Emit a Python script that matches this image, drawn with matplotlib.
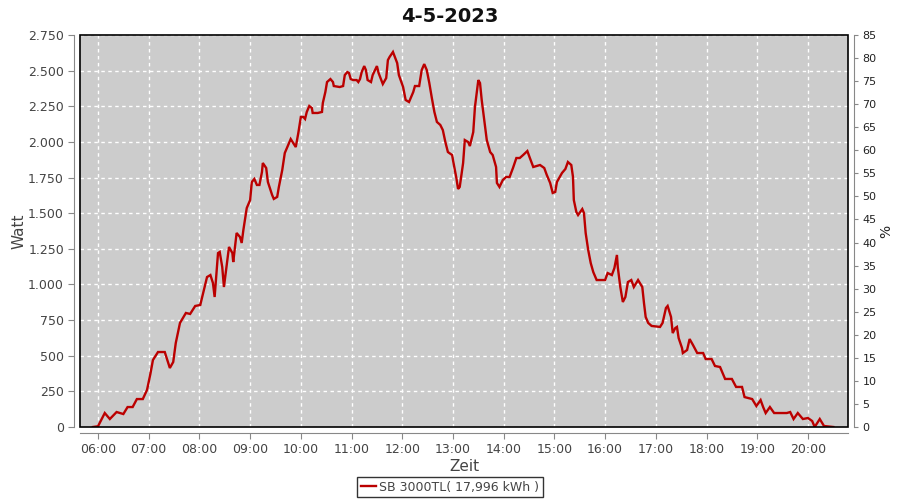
import matplotlib
matplotlib.use("Agg")
import matplotlib.pyplot as plt
from matplotlib.patches import Rectangle
from matplotlib.ticker import FuncFormatter, MultipleLocator

# Power of the inverter over the day (time of day, watt)
times = ["05:54", "06:00", "06:08", "06:14", "06:22", "06:30", "06:35", "06:41", "06:46", "06:53",
         "06:58", "07:02", "07:05", "07:11", "07:19", "07:22", "07:25", "07:29", "07:32", "07:37",
         "07:44", "07:49", "07:55", "08:01", "08:09", "08:13", "08:16", "08:18", "08:22", "08:24",
         "08:27", "08:29", "08:33", "08:35", "08:39", "08:40", "08:44", "08:48", "08:50", "08:52",
         "08:56", "09:00", "09:02", "09:05", "09:08", "09:11", "09:14", "09:15", "09:19", "09:21",
         "09:26", "09:28", "09:32", "09:34", "09:38", "09:41", "09:45", "09:48", "09:51", "09:54",
         "09:57", "10:00", "10:03", "10:05", "10:07", "10:10", "10:13", "10:14", "10:20", "10:25",
         "10:26", "10:29", "10:31", "10:35", "10:38", "10:39", "10:46", "10:50", "10:52", "10:55",
         "10:57", "10:59", "11:02", "11:06", "11:08", "11:10", "11:12", "11:15", "11:17", "11:19",
         "11:23", "11:25", "11:30", "11:32", "11:36", "11:37", "11:41", "11:43", "11:45", "11:49",
         "11:54", "11:56", "12:01", "12:04", "12:08", "12:13", "12:15", "12:20", "12:23", "12:26",
         "12:29", "12:32", "12:35", "12:38", "12:41", "12:45", "12:48", "12:51", "12:54", "12:59",
         "13:00", "13:04", "13:06", "13:08", "13:12", "13:14", "13:18", "13:20", "13:24", "13:26",
         "13:30", "13:32", "13:34", "13:37", "13:40", "13:44", "13:47", "13:51", "13:52", "13:55",
         "13:59", "14:03", "14:07", "14:11", "14:15", "14:19", "14:23", "14:28", "14:31", "14:35",
         "14:39", "14:43", "14:48", "14:51", "14:55", "14:58", "15:01", "15:03", "15:09", "15:13",
         "15:16", "15:20", "15:22", "15:23", "15:26", "15:28", "15:33", "15:35", "15:37", "15:40",
         "15:43", "15:46", "15:50", "16:00", "16:03", "16:08", "16:11", "16:14", "16:15", "16:18",
         "16:21", "16:24", "16:27", "16:31", "16:34", "16:39", "16:44", "16:46", "16:48", "16:51",
         "16:55", "17:05", "17:08", "17:12", "17:14", "17:18", "17:20", "17:23", "17:25", "17:27",
         "17:31", "17:32", "17:37", "17:40", "17:44", "17:49", "17:56", "17:59", "18:06", "18:10",
         "18:16", "18:22", "18:30", "18:35", "18:42", "18:45", "18:54", "18:59", "19:04", "19:07",
         "19:10", "19:15", "19:20", "19:35", "19:39", "19:43", "19:48", "19:54", "20:00", "20:05",
         "20:08", "20:14", "20:19", "20:30"]
watt = [0, 5, 98, 56, 105, 91, 140, 140, 196, 196,
        260, 373, 470, 526, 526, 470, 414, 456, 589, 730,
        800, 793, 849, 856, 1052, 1066, 1010, 912, 1220, 1228,
        1122, 982, 1171, 1263, 1220, 1157, 1361, 1333, 1291, 1382,
        1536, 1592, 1719, 1740, 1698, 1698, 1789, 1852, 1817, 1719,
        1628, 1600, 1614, 1684, 1803, 1922, 1978, 2020, 1992, 1964,
        2062, 2175, 2175, 2161, 2210, 2252, 2238, 2203, 2203, 2210,
        2273, 2350, 2420, 2441, 2420, 2392, 2385, 2392, 2469, 2490,
        2483, 2441, 2434, 2434, 2420, 2441, 2490, 2532, 2504, 2434,
        2420, 2469, 2532, 2483, 2420, 2406, 2448, 2574, 2596, 2631,
        2553, 2469, 2385, 2294, 2280, 2350, 2392, 2392, 2504, 2546,
        2504, 2413, 2308, 2210, 2140, 2119, 2083, 1999, 1929, 1908,
        1873, 1747, 1670, 1684, 1852, 2013, 1999, 1971, 2069, 2245,
        2434, 2413, 2294, 2154, 2013, 1929, 1908, 1824, 1712, 1684,
        1733, 1754, 1754, 1817, 1887, 1887, 1908, 1936, 1887, 1824,
        1831, 1838, 1817, 1768, 1712, 1642, 1649, 1719, 1782, 1810,
        1859, 1838, 1754, 1592, 1508, 1487, 1529, 1501, 1361, 1242,
        1150, 1087, 1031, 1031, 1080, 1066, 1115, 1207, 1122, 982,
        877, 912, 1017, 1031, 982, 1031, 982, 870, 772, 730,
        709, 702, 730, 835, 849, 772, 659, 694, 702, 624,
        554, 519, 540, 617, 575, 519, 519, 477, 477, 428,
        421, 337, 337, 281, 281, 210, 196, 147, 189, 140,
        98, 140, 98, 98, 105, 56, 98, 56, 63, 42,
        0, 56, 7, 0]

hour_ticks = list(range(6, 21))
hour_labels = ["%02d:00" % h for h in hour_ticks]
legend_label = "SB 3000TL( 17,996 kWh )"
title = "4-5-2023"


def to_hours(t):
    h, m = t.split(":")
    return int(h) + int(m) / 60.0


def german(v, pos):
    return "{:,.0f}".format(v).replace(",", ".")


hours = [to_hours(t) for t in times]
grey = "#444444"

fig = plt.figure(figsize=(9, 5), dpi=100)
ax = fig.add_axes([80 / 900, 1 - 427 / 500, 768 / 900, 392 / 500])
ax.set_facecolor("#cccccc")

line, = ax.plot(hours, watt, color="#bb0000", lw=1.7, solid_joinstyle="miter")

ax.set_xlim(5.645, 20.79)
ax.set_ylim(0, 2750)
ax.set_xticks(hour_ticks)
ax.set_xticklabels(hour_labels)
ax.yaxis.set_major_locator(MultipleLocator(250))
ax.yaxis.set_major_formatter(FuncFormatter(german))
ax.grid(True, color="white", linestyle=(0, (2.5, 2.5)), linewidth=1)
ax.set_axisbelow(True)

for side in ["top", "right"]:
    ax.spines[side].set_visible(False)
for side in ["left", "bottom"]:
    ax.spines[side].set_position(("outward", 4))
    ax.spines[side].set_color("#888888")
ax.add_patch(Rectangle((0, 0), 1, 1, transform=ax.transAxes, fill=False,
                       ec="black", lw=1.2, zorder=5, clip_on=False))
ax.tick_params(colors="#888888", labelcolor=grey, labelsize=9, length=4)

ax.set_xlabel("Zeit", fontsize=11, color=grey, labelpad=2)
ax.set_ylabel("Watt", fontsize=11, color=grey, labelpad=1)

# right percentage axis
ax2 = ax.twinx()
ax2.set_ylim(0, 85)
ax2.yaxis.set_major_locator(MultipleLocator(5))
for side in ["top", "left", "bottom"]:
    ax2.spines[side].set_visible(False)
ax2.spines["right"].set_position(("outward", 4))
ax2.spines["right"].set_color("#888888")
ax2.tick_params(colors="#888888", labelcolor="#222222", labelsize=8, length=3)
ax2.set_ylabel("%", fontsize=10, color="#222222", labelpad=2)

fig.suptitle(title, fontsize=14, fontweight="bold", y=0.985, color="#111111")

leg = fig.legend([line], [legend_label], loc="center", bbox_to_anchor=(0.5, 0.026),
                 frameon=True, fancybox=False, fontsize=9, handlelength=1.2,
                 borderpad=0.3, handletextpad=0.3)
leg.get_frame().set_edgecolor("black")
leg.get_frame().set_linewidth(1)
for t in leg.get_texts():
    t.set_color(grey)

fig.savefig("out.png", dpi=100)
